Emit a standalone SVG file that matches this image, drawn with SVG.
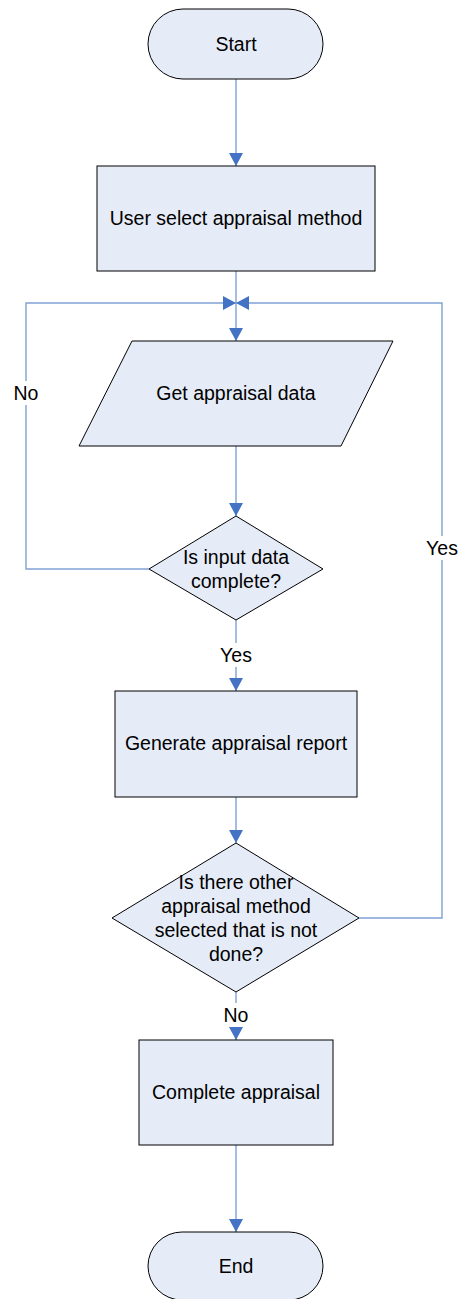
<svg xmlns="http://www.w3.org/2000/svg" width="462" height="1299" viewBox="0 0 462 1299">
  <defs>
    <marker id="arrow" markerUnits="userSpaceOnUse" markerWidth="14" markerHeight="14" viewBox="0 0 14 14" refX="13" refY="7" orient="auto">
      <path d="M0,0 L13,7 L0,14 Z" fill="#4472c4"/>
    </marker>
    <style>
      .shape { fill: #e6ecf7; stroke: #000; stroke-width: 1; }
      .label { font-family: "Liberation Sans", Arial, sans-serif; font-size: 19.5px; fill: #000; text-anchor: middle; dominant-baseline: central; }
      .conn { fill: none; stroke: #7fa1d6; stroke-width: 1.4; }
      .mask { fill: #fff; }
    </style>
  </defs>
  <rect width="462" height="1299" fill="#fff"/>

  <!-- connectors -->
  <g id="connectors">
    <path class="conn" d="M236,79 V166" marker-end="url(#arrow)"/>
    <path class="conn" d="M236,271 V341" marker-end="url(#arrow)"/>
    <path class="conn" d="M149,569 H26 V303 H236" marker-end="url(#arrow)"/>
    <path class="conn" d="M359,918 H442 V303 H236" marker-end="url(#arrow)"/>
    <path class="conn" d="M236,446 V516" marker-end="url(#arrow)"/>
    <path class="conn" d="M236,620 V691" marker-end="url(#arrow)"/>
    <path class="conn" d="M236,797 V843" marker-end="url(#arrow)"/>
    <path class="conn" d="M236,992 V1040" marker-end="url(#arrow)"/>
    <path class="conn" d="M236,1145 V1232" marker-end="url(#arrow)"/>
    <!-- branch labels -->
    <rect class="mask" x="12" y="381" width="28" height="24"/>
    <text class="label" x="26" y="393">No</text>
    <rect class="mask" x="424" y="536" width="36" height="24"/>
    <text class="label" x="442" y="548">Yes</text>
    <rect class="mask" x="218" y="643" width="36" height="24"/>
    <text class="label" x="236" y="655">Yes</text>
    <rect class="mask" x="222" y="1003" width="28" height="24"/>
    <text class="label" x="236" y="1015">No</text>
  </g>

  <g id="start">
    <rect class="shape" x="148" y="9" width="175" height="70" rx="35" ry="35"/>
    <text class="label" x="236" y="44">Start</text>
  </g>

  <g id="select-method">
    <rect class="shape" x="97" y="166" width="278" height="105"/>
    <text class="label" x="236" y="218">User select appraisal method</text>
  </g>

  <g id="get-data">
    <polygon class="shape" points="132,341 393,341 341,446 79,446"/>
    <text class="label" x="236" y="393">Get appraisal data</text>
  </g>

  <g id="input-complete">
    <polygon class="shape" points="236,516 323,569 236,620 149,569"/>
    <text class="label" x="236" y="557">Is input data</text>
    <text class="label" x="236" y="581">complete?</text>
  </g>

  <g id="generate-report">
    <rect class="shape" x="115" y="691" width="242" height="106"/>
    <text class="label" x="236" y="743">Generate appraisal report</text>
  </g>

  <g id="other-method">
    <polygon class="shape" points="236,843 359,918 236,992 112,918"/>
    <text class="label" x="236" y="882">Is there other</text>
    <text class="label" x="236" y="906">appraisal method</text>
    <text class="label" x="236" y="930">selected that is not</text>
    <text class="label" x="236" y="954">done?</text>
  </g>

  <g id="complete-appraisal">
    <rect class="shape" x="139" y="1040" width="194" height="105"/>
    <text class="label" x="236" y="1092">Complete appraisal</text>
  </g>

  <g id="end">
    <rect class="shape" x="148" y="1232" width="175" height="68" rx="34" ry="34"/>
    <text class="label" x="236" y="1266">End</text>
  </g>
</svg>
